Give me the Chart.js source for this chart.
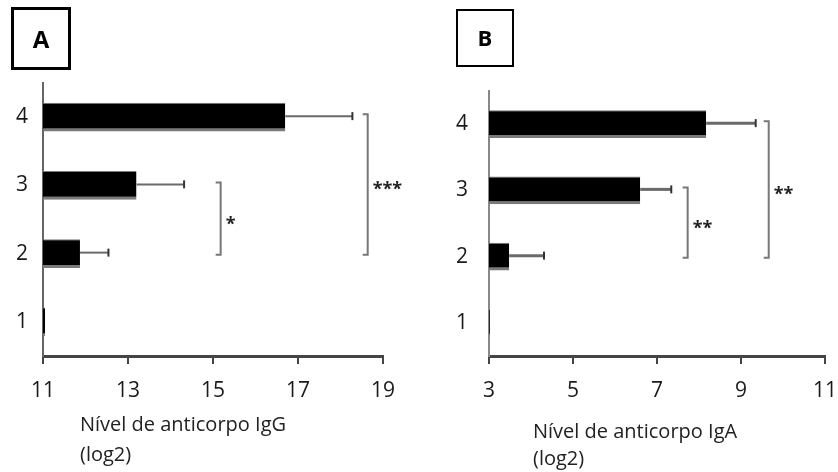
<!DOCTYPE html>
<html>
<head>
<meta charset="utf-8">
<script src="https://cdn.jsdelivr.net/npm/chart.js@4.4.1/dist/chart.umd.min.js"></script>
<style>
  body { margin: 0; background: #fff; }
  #wrap { position: relative; width: 838px; height: 472px; font-family: 'Open Sans', sans-serif; }
  canvas { position: absolute; top: 0; }
  .tag { position: absolute; border: 3px solid #000; box-sizing: border-box; font-weight: bold; text-align: center; color: #000; }
  .ttl { position: absolute; font-size: 20px; color: #222; white-space: nowrap; }
</style>
</head>
<body>
<div id="wrap">
  <canvas id="chartA" width="420" height="472" style="left:0"></canvas>
  <canvas id="chartB" width="418" height="472" style="left:420px"></canvas>
  <div class="tag" style="left:11px;top:7px;width:60px;height:63px;font-size:24px;line-height:57px;">A</div>
  <div class="tag" style="left:456px;top:9px;width:58px;height:58px;font-size:22px;line-height:53px;border-width:2px;">B</div>
  <div class="ttl" style="left:80px;top:409px;line-height:30px;">Nível de anticorpo IgG<br>(log2)</div>
  <div class="ttl" style="left:533px;top:417px;line-height:27px;">Nível de anticorpo IgA<br>(log2)</div>
</div>
<script>
// grupos, de cima para baixo
const groups = ['4', '3', '2', '1'];

// IgG (painel A)
const iggMean = [16.7, 13.2, 11.87, 11.05];
const iggUpper = [18.28, 14.32, 12.54, null];
const iggTicks = [11, 13, 15, 17, 19];

// IgA (painel B)
const igaMean = [8.17, 6.6, 3.48, 3.02];
const igaUpper = [9.35, 7.34, 4.31, null];
const igaTicks = [3, 5, 7, 9, 11];

// comparacoes (at = posicao do colchete no eixo x)
const sigA = [
    { from: '3', to: '2', at: 15.18, label: '*' },
    { from: '4', to: '2', at: 18.64, label: '***' }
];
const sigB = [
    { from: '3', to: '2', at: 7.73, label: '**' },
    { from: '4', to: '2', at: 9.66, label: '**' }
];

Chart.defaults.font.family = "'Open Sans', sans-serif";

// barras de erro + colchetes de significancia
const extras = {
    id: 'extras',
    afterDatasetsDraw(chart, args, opts) {
        const ctx = chart.ctx;
        const xs = chart.scales.x, ys = chart.scales.y;
        ctx.save();
        opts.upper.forEach(function(u, i) {
            if (u === null) return;
            const x0 = xs.getPixelForValue(opts.mean[i]);
            const x1 = xs.getPixelForValue(u);
            const y = ys.getPixelForValue(i) - 1;
            ctx.strokeStyle = '#6a6a6a';
            ctx.lineWidth = opts.errWidth;
            ctx.beginPath();
            ctx.moveTo(x0, y);
            ctx.lineTo(x1, y);
            ctx.stroke();
            ctx.strokeStyle = '#333';
            ctx.lineWidth = 2;
            ctx.beginPath();
            ctx.moveTo(x1, y - 4);
            ctx.lineTo(x1, y + 4);
            ctx.stroke();
        });
        opts.sig.forEach(function(s) {
            const x = xs.getPixelForValue(s.at);
            const yTop = ys.getPixelForValue(groups.indexOf(s.from)) - 3;
            const yBot = ys.getPixelForValue(groups.indexOf(s.to)) + 1;
            ctx.strokeStyle = '#777';
            ctx.lineWidth = 2;
            ctx.beginPath();
            ctx.moveTo(x - 5, yTop);
            ctx.lineTo(x, yTop);
            ctx.lineTo(x, yBot);
            ctx.lineTo(x - 5, yBot);
            ctx.stroke();
            ctx.fillStyle = '#222';
            ctx.font = 'bold 18px "Open Sans", sans-serif';
            ctx.textAlign = 'left';
            ctx.textBaseline = 'alphabetic';
            ctx.fillText(s.label, x + 5, (yTop + yBot) / 2 + 11);
        });
        ctx.restore();
    }
};

function makeChart(id, means, upper, ticks, sig, pad, yWidth, yPad, errWidth, yBorder) {
    new Chart(document.getElementById(id), {
        type: 'bar',
        data: {
            labels: groups,
            datasets: [{
                data: means,
                backgroundColor: '#000',
                borderColor: '#7a7a7a',
                borderWidth: { top: 1, bottom: 3, left: 0, right: 0 },
                borderSkipped: false,
                barPercentage: 0.42,
                categoryPercentage: 1
            }]
        },
        options: {
            indexAxis: 'y',
            responsive: false,
            animation: false,
            layout: { padding: pad },
            plugins: {
                legend: { display: false },
                tooltip: { enabled: false },
                extras: { mean: means, upper: upper, sig: sig, errWidth: errWidth }
            },
            scales: {
                x: {
                    type: 'linear',
                    min: ticks[0],
                    max: ticks[ticks.length - 1],
                    afterBuildTicks: function(scale) {
                        scale.ticks = ticks.map(function(v) { return { value: v }; });
                    },
                    ticks: { color: '#1a1a1a', font: { size: 21 }, padding: 14 },
                    grid: { drawOnChartArea: false, tickLength: 8, color: '#444', lineWidth: 2 },
                    border: { color: '#444', width: 3 },
                    afterFit: function(scale) {
                        scale.height = 116;
                        scale.paddingLeft = 0;
                        scale.paddingRight = 0;
                    }
                },
                y: {
                    ticks: { color: '#1a1a1a', font: { size: 21 }, padding: yPad },
                    grid: { drawOnChartArea: false, drawTicks: false },
                    border: { color: yBorder, width: 2 },
                    afterFit: function(scale) {
                        scale.width = yWidth;
                        scale.paddingTop = 0;
                        scale.paddingBottom = 0;
                    }
                }
            }
        },
        plugins: [extras]
    });
}

makeChart('chartA', iggMean, iggUpper, iggTicks, sigA, { left: 0, right: 37, top: 83, bottom: 0 }, 43, 15, 2, '#666');
makeChart('chartB', igaMean, igaUpper, igaTicks, sigB, { left: 0, right: 13, top: 91, bottom: 0 }, 69, 21, 3, '#888');
</script>
</body>
</html>
